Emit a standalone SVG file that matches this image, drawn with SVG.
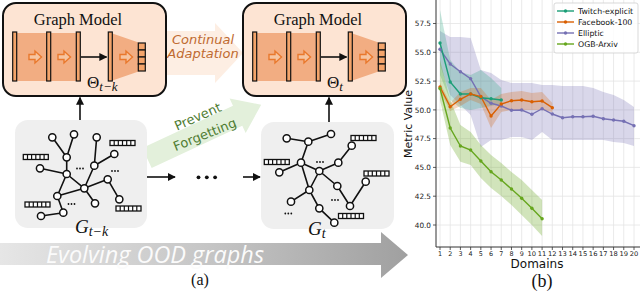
<svg xmlns="http://www.w3.org/2000/svg" width="640" height="292" viewBox="0 0 640 292">
<style>
.serif{font-family:"Liberation Serif","DejaVu Serif",serif;fill:#111}
.sans{font-family:"DejaVu Sans","Liberation Sans",sans-serif}
.edge{stroke:#111;stroke-width:1.6;fill:none}
.nd{fill:#fff;stroke:#111;stroke-width:1.5}
.bar{fill:#f4a46a;stroke:#111;stroke-width:1.2}
.shade{fill:#f2ad82}
.ic{fill:#f6c4a0;stroke:#e9782c;stroke-width:1.4}
.conn{stroke:#111;stroke-width:1.6;fill:none}
.grid{stroke:#e4e4e4;stroke-width:0.8}
.tick{font-family:"DejaVu Sans",sans-serif;font-size:7.3px;fill:#222}
.xt{font-size:6.4px}
.band{stroke:none}
.ln{fill:none;stroke-width:1.4}
.gbox{fill:#efefef}
.mbox{fill:#fde4d3;stroke:#111;stroke-width:2}
</style>
<defs>
<marker id="ah" viewBox="0 0 10 10" refX="9" refY="5" markerWidth="5" markerHeight="5" orient="auto">
<path d="M0,0 L10,5 L0,10 Z" fill="#111"/>
</marker>
<path id="icon" class="ic" d="M-6,-2.5 H0 V-6 L6.5,0 L0,6 V2.5 H-6 Z"/>
<g id="fv">
<rect x="0" y="0" width="25" height="5" fill="#fff" stroke="#111" stroke-width="1.3"/>
<path d="M4.2,0V5M8.3,0V5M12.5,0V5M16.7,0V5M20.8,0V5" stroke="#111" stroke-width="1.2"/>
</g>
<g id="mdl">
<rect class="shade" x="14.7" y="33" width="64" height="48"/>
<polygon class="shade" points="111,33 140,43 140,71 111,81"/>
<rect class="bar" x="12.7" y="32" width="4" height="49"/>
<rect class="bar" x="46.7" y="32" width="4" height="49"/>
<rect class="bar" x="76.3" y="32" width="4" height="49"/>
<rect class="bar" x="108.3" y="32" width="4" height="49"/>
<rect class="bar" x="138.3" y="43" width="7" height="7"/>
<rect class="bar" x="138.3" y="50" width="7" height="7"/>
<rect class="bar" x="138.3" y="57" width="7" height="7"/>
<rect class="bar" x="138.3" y="64" width="7" height="7"/>
<use href="#icon" x="35" y="57"/>
<use href="#icon" x="64" y="57"/>
<use href="#icon" x="126" y="57"/>
<line x1="81" y1="57" x2="106.5" y2="57" class="conn" marker-end="url(#ah)"/>
</g>
<linearGradient id="evo" x1="0" y1="0" x2="1" y2="0">
<stop offset="0" stop-color="#e6e6e6"/>
<stop offset="0.5" stop-color="#c6c6c6"/>
<stop offset="1" stop-color="#a0a0a0"/>
</linearGradient>
</defs>

<!-- evolving arrow -->
<g id="evolving">
<polygon points="0,243 381,243 381,232 408,255 381,278 381,265 0,265" fill="url(#evo)"/>
<text x="155" y="263" text-anchor="middle" textLength="218" lengthAdjust="spacingAndGlyphs" style="font-family:'Open Sans','DejaVu Sans',sans-serif;font-style:italic;font-size:23px;fill:#fbfbfb">Evolving OOD graphs</text>
</g>

<!-- continual adaptation arrow -->
<g id="continual">
<polygon points="166,31 215,31 215,23 243,53 215,83 215,75 166,75" fill="#fdeee3"/>
<text class="sans" x="203" y="44" text-anchor="middle" style="font-size:13px;font-style:italic;fill:#bf6a30">Continual</text>
<text class="sans" x="203" y="58" text-anchor="middle" style="font-size:13px;font-style:italic;fill:#bf6a30">Adaptation</text>
</g>

<!-- prevent forgetting arrow -->
<g id="prevent">
<g transform="translate(147,158) rotate(-25)">
<polygon points="0,-11 100,-11 100,-19 126,0 100,19 100,11 0,11" fill="#e3f0db"/>
</g>
<text class="sans" x="198" y="121" text-anchor="middle" transform="rotate(-24 198 117)" style="font-size:13px;fill:#4f7d32">Prevent</text>
<text class="sans" x="205" y="139" text-anchor="middle" transform="rotate(-22 205 135)" style="font-size:13px;fill:#4f7d32">Forgetting</text>
</g>

<!-- model nodes -->
<g id="model-tk">
<rect class="mbox" x="3" y="3" width="163" height="93" rx="13"/>
<use href="#mdl"/>
<text class="serif" x="78" y="25" text-anchor="middle" style="font-size:16.5px">Graph Model</text>
<text class="serif" x="87" y="88" style="font-size:17px">Θ<tspan dy="3" style="font-size:13px;font-style:italic">t−k</tspan></text>
</g>
<g id="model-t">
<rect class="mbox" x="243" y="3" width="163" height="93" rx="13"/>
<use href="#mdl" x="240"/>
<text class="serif" x="318" y="25" text-anchor="middle" style="font-size:16.5px">Graph Model</text>
<text class="serif" x="327" y="88" style="font-size:17px">Θ<tspan dy="3" style="font-size:13px;font-style:italic">t</tspan></text>
</g>

<!-- graph G_{t-k} -->
<g id="graph-tk">
<rect class="gbox" x="15" y="120" width="132" height="108" rx="13"/>
<path class="edge" d="M52.3,137.3L66.7,157.3M74,134.3L66.7,157.3M66.7,157.3L66.7,174M40,168.3L66.7,174M66.7,174L84.3,188.3M66.7,174L57.3,196M96.7,137.3L94.3,165.7M114.3,154L94.3,165.7M94.3,165.7L84.3,188.3M107.7,179.3L84.3,188.3M107.7,179.3L119.3,199.3M84.3,188.3L95,203.3M57.3,196L84.3,188.3M57.3,196L63.3,212.7M63.3,212.7L41,216"/>
<circle class="nd" cx="52.3" cy="137.3" r="3.6"/>
<circle class="nd" cx="74" cy="134.3" r="3.6"/>
<circle class="nd" cx="66.7" cy="157.3" r="3.6"/>
<circle class="nd" cx="96.7" cy="137.3" r="3.6"/>
<circle class="nd" cx="114.3" cy="154" r="3.6"/>
<circle class="nd" cx="94.3" cy="165.7" r="3.6"/>
<circle class="nd" cx="40" cy="168.3" r="3.6"/>
<circle class="nd" cx="66.7" cy="174" r="3.6"/>
<circle class="nd" cx="107.7" cy="179.3" r="3.6"/>
<circle class="nd" cx="84.3" cy="188.3" r="3.6"/>
<circle class="nd" cx="57.3" cy="196" r="3.6"/>
<circle class="nd" cx="119.3" cy="199.3" r="3.6"/>
<circle class="nd" cx="95" cy="203.3" r="3.6"/>
<circle class="nd" cx="63.3" cy="212.7" r="3.6"/>
<circle class="nd" cx="41" cy="216" r="3.6"/>
<g fill="#111"><circle cx="77" cy="168.5" r="0.9"/><circle cx="80" cy="168.5" r="0.9"/><circle cx="83" cy="168.5" r="0.9"/>
<circle cx="112" cy="171" r="0.9"/><circle cx="115" cy="171" r="0.9"/><circle cx="118" cy="171" r="0.9"/>
<circle cx="68.5" cy="204" r="0.9"/><circle cx="71.5" cy="204" r="0.9"/><circle cx="74.5" cy="204" r="0.9"/></g>
<use href="#fv" x="110" y="140.5"/>
<use href="#fv" x="23.3" y="154.5"/>
<use href="#fv" x="25" y="202"/>
<use href="#fv" x="116" y="206"/>
<text class="serif" x="75" y="233" style="font-size:19px;font-style:italic">G<tspan dy="2.5" style="font-size:14px">t−k</tspan></text>
</g>

<!-- graph G_t -->
<g id="graph-t">
<rect class="gbox" x="261" y="122" width="133" height="107" rx="13"/>
<path class="edge" d="M286.7,138.3L308.3,141.7M308.3,141.7L331,134M308.3,141.7L301,162.7M279.3,172.3L301,162.7M301,162.7L319.3,171M301,162.7L309.3,190M338.3,162.7L351.7,145.7M338.3,162.7L319.3,171M319.3,171L309.3,190M319.3,171L337.3,186M337.3,186L350,206M350,206L365.7,181.7M309.3,190L291,201.7M309.3,190L319.3,208.3M319.3,208.3L334.3,222.7"/>
<circle class="nd" cx="286.7" cy="138.3" r="3.6"/>
<circle class="nd" cx="308.3" cy="141.7" r="3.6"/>
<circle class="nd" cx="331" cy="134" r="3.6"/>
<circle class="nd" cx="351.7" cy="145.7" r="3.6"/>
<circle class="nd" cx="301" cy="162.7" r="3.6"/>
<circle class="nd" cx="338.3" cy="162.7" r="3.6"/>
<circle class="nd" cx="279.3" cy="172.3" r="3.6"/>
<circle class="nd" cx="319.3" cy="171" r="3.6"/>
<circle class="nd" cx="337.3" cy="186" r="3.6"/>
<circle class="nd" cx="365.7" cy="181.7" r="3.6"/>
<circle class="nd" cx="309.3" cy="190" r="3.6"/>
<circle class="nd" cx="291" cy="201.7" r="3.6"/>
<circle class="nd" cx="319.3" cy="208.3" r="3.6"/>
<circle class="nd" cx="350" cy="206" r="3.6"/>
<circle class="nd" cx="334.3" cy="222.7" r="3.6"/>
<g fill="#111"><circle cx="317" cy="162" r="0.9"/><circle cx="320" cy="162" r="0.9"/><circle cx="323" cy="162" r="0.9"/>
<circle cx="332" cy="200" r="0.9"/><circle cx="335" cy="200" r="0.9"/><circle cx="338" cy="200" r="0.9"/>
<circle cx="285.3" cy="213.5" r="0.9"/><circle cx="288.3" cy="213.5" r="0.9"/><circle cx="291.3" cy="213.5" r="0.9"/></g>
<use href="#fv" x="351" y="135.5"/>
<use href="#fv" x="264.3" y="159.5"/>
<use href="#fv" x="364" y="171"/>
<use href="#fv" x="338.5" y="213.5"/>
<text class="serif" x="308" y="235" style="font-size:19px;font-style:italic">G<tspan dy="2.5" style="font-size:14px">t</tspan></text>
</g>

<!-- connectors -->
<g id="connectors">
<line class="conn" x1="80" y1="120" x2="80" y2="97.5" marker-end="url(#ah)"/>
<line class="conn" x1="329" y1="122" x2="329" y2="97.5" marker-end="url(#ah)"/>
<line class="conn" x1="147" y1="177" x2="175" y2="177" marker-end="url(#ah)"/>
<line class="conn" x1="243" y1="177" x2="260" y2="177" marker-end="url(#ah)"/>
<g fill="#111"><circle cx="198.5" cy="177.3" r="1.9"/><circle cx="206.8" cy="177.3" r="1.9"/><circle cx="215.1" cy="177.3" r="1.9"/></g>
</g>

<text class="serif" x="200" y="285" text-anchor="middle" style="font-size:16px">(a)</text>

<!-- chart (b) -->
<g id="chart">
<g class="grid">
<line x1="440" y1="0" x2="440" y2="247"/><line x1="450.21" y1="0" x2="450.21" y2="247"/><line x1="460.42" y1="0" x2="460.42" y2="247"/><line x1="470.63" y1="0" x2="470.63" y2="247"/><line x1="480.84" y1="0" x2="480.84" y2="247"/><line x1="491.05" y1="0" x2="491.05" y2="247"/><line x1="501.26" y1="0" x2="501.26" y2="247"/><line x1="511.47" y1="0" x2="511.47" y2="247"/><line x1="521.68" y1="0" x2="521.68" y2="247"/><line x1="531.89" y1="0" x2="531.89" y2="247"/><line x1="542.1" y1="0" x2="542.1" y2="247"/><line x1="552.31" y1="0" x2="552.31" y2="247"/><line x1="562.52" y1="0" x2="562.52" y2="247"/><line x1="572.73" y1="0" x2="572.73" y2="247"/><line x1="582.94" y1="0" x2="582.94" y2="247"/><line x1="593.15" y1="0" x2="593.15" y2="247"/><line x1="603.36" y1="0" x2="603.36" y2="247"/><line x1="613.57" y1="0" x2="613.57" y2="247"/><line x1="623.78" y1="0" x2="623.78" y2="247"/><line x1="634" y1="0" x2="634" y2="247"/>
<line x1="436" y1="225" x2="640" y2="225"/><line x1="436" y1="196.2" x2="640" y2="196.2"/><line x1="436" y1="167.4" x2="640" y2="167.4"/><line x1="436" y1="138.6" x2="640" y2="138.6"/><line x1="436" y1="109.9" x2="640" y2="109.9"/><line x1="436" y1="81.1" x2="640" y2="81.1"/><line x1="436" y1="52.3" x2="640" y2="52.3"/><line x1="436" y1="23.5" x2="640" y2="23.5"/>
</g>
<polygon class="band" fill="#7570b3" fill-opacity="0.28" points="440,31 450.21,37 460.42,37 470.63,38 480.84,70 491.05,73 501.26,80 511.47,83 521.68,83 531.89,83 542.1,85 552.31,85 562.52,86 572.73,86 582.94,86 593.15,88 603.36,92 613.57,95 623.78,100 634,107 634,146 623.78,143 613.57,142 603.36,140 593.15,140 582.94,140 572.73,140 562.52,140 552.31,140 542.1,132 531.89,140 521.68,137 511.47,137 501.26,140 491.05,140 480.84,147 470.63,115 460.42,105 450.21,95 440,65"/>
<polygon class="band" fill="#1b9e77" fill-opacity="0.25" points="440,10 450.21,60 460.42,72 470.63,75 480.84,70 491.05,78 501.26,88 501.26,104 491.05,106 480.84,108 470.63,110 460.42,108 450.21,100 440,75"/>
<polygon class="band" fill="#d95f02" fill-opacity="0.25" points="440,83 450.21,103 460.42,92 470.63,88 480.84,88 491.05,100 501.26,94 511.47,92 521.68,91 531.89,93 542.1,92 552.31,103 552.31,112 542.1,110 531.89,110 521.68,110 511.47,110 501.26,112 491.05,128 480.84,104 470.63,100 460.42,106 450.21,111 440,91"/>
<polygon class="band" fill="#66a61e" fill-opacity="0.3" points="440,60 450.21,100 460.42,125 470.63,132 480.84,145 491.05,155 501.26,163 511.47,172 521.68,180 531.89,190 542.1,200 542.1,236 531.89,225 521.68,215 511.47,205 501.26,196 491.05,188 480.84,178 470.63,165 460.42,161.7 450.21,145 440,100"/>
<polyline class="ln" stroke="#7570b3" points="440,49.3 450.21,64 460.42,71.7 470.63,78.7 480.84,96.7 491.05,103.3 501.26,106 511.47,110.3 521.68,110 531.89,114.3 542.1,108.7 552.31,114 562.52,117.7 572.73,116.7 582.94,116.7 593.15,116.3 603.36,118.7 613.57,120 623.78,121.3 634,125.7"/>
<polyline class="ln" stroke="#1b9e77" points="440,43 450.21,82 460.42,94 470.63,94 480.84,97.7 491.05,98.7 501.26,100"/>
<polyline class="ln" stroke="#d95f02" points="440,87 450.21,106.7 460.42,99.3 470.63,94 480.84,96.5 491.05,116 501.26,104 511.47,100.7 521.68,100 531.89,101.7 542.1,101 552.31,107.7"/>
<polyline class="ln" stroke="#66a61e" points="440,88.5 450.21,128 460.42,146 470.63,150 480.84,161 491.05,171.7 501.26,180 511.47,189 521.68,198.3 531.89,208.3 542.1,218.7"/>
<g fill="#7570b3"><circle cx="440" cy="49.3" r="1.7"/><circle cx="450.21" cy="64" r="1.7"/><circle cx="460.42" cy="71.7" r="1.7"/><circle cx="470.63" cy="78.7" r="1.7"/><circle cx="480.84" cy="96.7" r="1.7"/><circle cx="491.05" cy="103.3" r="1.7"/><circle cx="501.26" cy="106" r="1.7"/><circle cx="511.47" cy="110.3" r="1.7"/><circle cx="521.68" cy="110" r="1.7"/><circle cx="531.89" cy="114.3" r="1.7"/><circle cx="542.1" cy="108.7" r="1.7"/><circle cx="552.31" cy="114" r="1.7"/><circle cx="562.52" cy="117.7" r="1.7"/><circle cx="572.73" cy="116.7" r="1.7"/><circle cx="582.94" cy="116.7" r="1.7"/><circle cx="593.15" cy="116.3" r="1.7"/><circle cx="603.36" cy="118.7" r="1.7"/><circle cx="613.57" cy="120" r="1.7"/><circle cx="623.78" cy="121.3" r="1.7"/><circle cx="634" cy="125.7" r="1.7"/></g>
<g fill="#1b9e77"><circle cx="440" cy="43" r="1.7"/><circle cx="450.21" cy="82" r="1.7"/><circle cx="460.42" cy="94" r="1.7"/><circle cx="470.63" cy="94" r="1.7"/><circle cx="480.84" cy="97.7" r="1.7"/><circle cx="491.05" cy="98.7" r="1.7"/><circle cx="501.26" cy="100" r="1.7"/></g>
<g fill="#d95f02"><circle cx="440" cy="87" r="1.7"/><circle cx="450.21" cy="106.7" r="1.7"/><circle cx="460.42" cy="99.3" r="1.7"/><circle cx="470.63" cy="94" r="1.7"/><circle cx="480.84" cy="96.5" r="1.7"/><circle cx="491.05" cy="116" r="1.7"/><circle cx="501.26" cy="104" r="1.7"/><circle cx="511.47" cy="100.7" r="1.7"/><circle cx="521.68" cy="100" r="1.7"/><circle cx="531.89" cy="101.7" r="1.7"/><circle cx="542.1" cy="101" r="1.7"/><circle cx="552.31" cy="107.7" r="1.7"/></g>
<g fill="#66a61e"><circle cx="440" cy="88.5" r="1.7"/><circle cx="450.21" cy="128" r="1.7"/><circle cx="460.42" cy="146" r="1.7"/><circle cx="470.63" cy="150" r="1.7"/><circle cx="480.84" cy="161" r="1.7"/><circle cx="491.05" cy="171.7" r="1.7"/><circle cx="501.26" cy="180" r="1.7"/><circle cx="511.47" cy="189" r="1.7"/><circle cx="521.68" cy="198.3" r="1.7"/><circle cx="531.89" cy="208.3" r="1.7"/><circle cx="542.1" cy="218.7" r="1.7"/></g>
<path d="M436,0V247H640" fill="none" stroke="#333" stroke-width="1"/>
<path d="M440,247v3M450.21,247v3M460.42,247v3M470.63,247v3M480.84,247v3M491.05,247v3M501.26,247v3M511.47,247v3M521.68,247v3M531.89,247v3M542.1,247v3M552.31,247v3M562.52,247v3M572.73,247v3M582.94,247v3M593.15,247v3M603.36,247v3M613.57,247v3M623.78,247v3M634,247v3M436,225h-3M436,196.2h-3M436,167.4h-3M436,138.6h-3M436,109.9h-3M436,81.1h-3M436,52.3h-3M436,23.5h-3" stroke="#333" stroke-width="0.8"/>
<g class="tick xt" text-anchor="middle">
<text x="440" y="256">1</text><text x="450.21" y="256">2</text><text x="460.42" y="256">3</text><text x="470.63" y="256">4</text><text x="480.84" y="256">5</text><text x="491.05" y="256">6</text><text x="501.26" y="256">7</text><text x="511.47" y="256">8</text><text x="521.68" y="256">9</text><text x="531.89" y="256" textLength="8.6" lengthAdjust="spacingAndGlyphs">10</text><text x="542.1" y="256" textLength="8.6" lengthAdjust="spacingAndGlyphs">11</text><text x="552.31" y="256" textLength="8.6" lengthAdjust="spacingAndGlyphs">12</text><text x="562.52" y="256" textLength="8.6" lengthAdjust="spacingAndGlyphs">13</text><text x="572.73" y="256" textLength="8.6" lengthAdjust="spacingAndGlyphs">14</text><text x="582.94" y="256" textLength="8.6" lengthAdjust="spacingAndGlyphs">15</text><text x="593.15" y="256" textLength="8.6" lengthAdjust="spacingAndGlyphs">16</text><text x="603.36" y="256" textLength="8.6" lengthAdjust="spacingAndGlyphs">17</text><text x="613.57" y="256" textLength="8.6" lengthAdjust="spacingAndGlyphs">18</text><text x="623.78" y="256" textLength="8.6" lengthAdjust="spacingAndGlyphs">19</text><text x="634" y="256" textLength="8.6" lengthAdjust="spacingAndGlyphs">20</text>
</g>
<g class="tick" text-anchor="end">
<text x="431" y="227.7">40.0</text><text x="431" y="198.9">42.5</text><text x="431" y="170.1">45.0</text><text x="431" y="141.3">47.5</text><text x="431" y="112.6">50.0</text><text x="431" y="83.8">52.5</text><text x="431" y="55">55.0</text><text x="431" y="26.2">57.5</text>
</g>
<text class="sans" x="537" y="268" text-anchor="middle" style="font-size:12px;fill:#111">Domains</text>
<text class="sans" x="0" y="0" text-anchor="middle" transform="translate(412 124) rotate(-90)" style="font-size:11px;fill:#111">Metric Value</text>
<rect x="554" y="3" width="84" height="50" rx="2" fill="#fff" fill-opacity="0.85" stroke="#cfcfcf" stroke-width="0.8"/>
<line x1="557" y1="11" x2="574" y2="11" stroke="#1b9e77" stroke-width="1.4"/><circle cx="565.5" cy="11" r="1.7" fill="#1b9e77"/>
<line x1="557" y1="22" x2="574" y2="22" stroke="#d95f02" stroke-width="1.4"/><circle cx="565.5" cy="22" r="1.7" fill="#d95f02"/>
<line x1="557" y1="33" x2="574" y2="33" stroke="#7570b3" stroke-width="1.4"/><circle cx="565.5" cy="33" r="1.7" fill="#7570b3"/>
<line x1="557" y1="44" x2="574" y2="44" stroke="#66a61e" stroke-width="1.4"/><circle cx="565.5" cy="44" r="1.7" fill="#66a61e"/>
<g class="sans" style="font-size:7.8px;fill:#111">
<text x="578" y="13.8">Twitch-explicit</text>
<text x="578" y="24.8">Facebook-100</text>
<text x="578" y="35.8">Elliptic</text>
<text x="578" y="46.8">OGB-Arxiv</text>
</g>
</g>
<text class="serif" x="542" y="287" text-anchor="middle" style="font-size:18px">(b)</text>
</svg>
